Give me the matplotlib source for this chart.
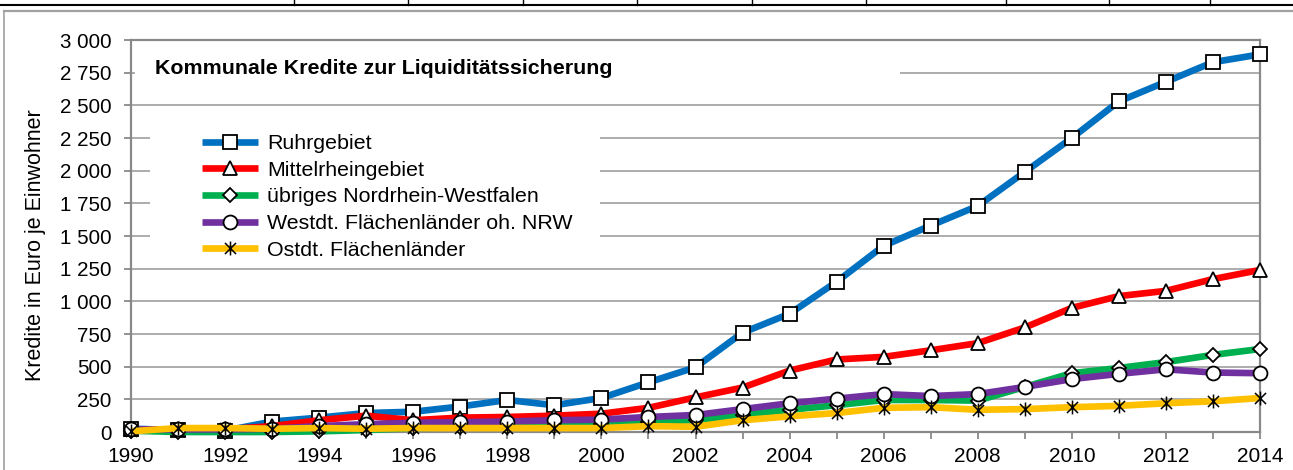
import matplotlib
matplotlib.use("Agg")
import matplotlib.pyplot as plt
from matplotlib.path import Path
from matplotlib.lines import Line2D
from matplotlib.patches import Rectangle
from matplotlib.ticker import FuncFormatter, MultipleLocator

plt.rcParams['font.family'] = ['Liberation Sans', 'DejaVu Sans']

years = list(range(1990, 2015))
ruhr = [25, 15, 10, 80, 110, 145, 155, 195, 245, 205, 260, 380, 495, 760, 905, 1150, 1425, 1580, 1730, 1990, 2250, 2530, 2680, 2830, 2890]
mittel = [20, 20, 20, 45, 90, 125, 90, 110, 115, 125, 140, 185, 265, 340, 470, 555, 575, 625, 680, 800, 950, 1040, 1080, 1170, 1240]
uebriges = [10, 0, 0, 0, 5, 15, 30, 35, 40, 45, 65, 80, 90, 130, 170, 205, 245, 245, 240, 345, 450, 490, 535, 590, 635]
westdt = [20, 20, 20, 25, 45, 60, 70, 75, 80, 90, 95, 115, 130, 175, 220, 255, 290, 275, 290, 345, 405, 445, 480, 455, 450]
ostdt = [5, 30, 30, 25, 30, 25, 30, 30, 30, 30, 30, 45, 40, 90, 120, 145, 185, 190, 170, 175, 190, 200, 220, 235, 260]

labels = ["Ruhrgebiet", "Mittelrheingebiet", "übriges Nordrhein-Westfalen",
          "Westdt. Flächenländer oh. NRW", "Ostdt. Flächenländer"]
title = "Kommunale Kredite zur Liquiditätssicherung"
ylabel = "Kredite in Euro je Einwohner"

W, H = 1293, 470
fig = plt.figure(figsize=(W / 100, H / 100), dpi=100)

def fx(px):
    return px / W

def fy(py):
    return 1 - py / H

ax = fig.add_axes([fx(131), fy(432), fx(1260) - fx(131), fy(40) - fy(432)])

star = Path([(-1, -1), (1, 1), (-1, 1), (1, -1), (0, -1.25), (0, 1.25)],
            [Path.MOVETO, Path.LINETO, Path.MOVETO, Path.LINETO, Path.MOVETO, Path.LINETO])

series = [
    (ruhr, "#0070C0", "s", 9.5),
    (mittel, "#FF0000", "^", 10),
    (uebriges, "#00B050", "D", 7),
    (westdt, "#7030A0", "o", 10),
    (ostdt, "#FFC000", star, 10),
]

handles = []
for i, (vals, col, mk, ms) in enumerate(series):
    if mk is star:
        h, = ax.plot(years, vals, color=col, lw=4.8, marker=mk, ms=ms,
                     mec="black", mew=1.1, zorder=3 + i, solid_capstyle="butt",
                     clip_on=False)
    else:
        h, = ax.plot(years, vals, color=col, lw=4.8, marker=mk, ms=ms,
                     mfc="white", mec="black", mew=1.3, zorder=3 + i,
                     solid_capstyle="butt", clip_on=False)
    handles.append(h)

ax.set_xlim(1990, 2014)
ax.set_ylim(0, 3000)
ax.yaxis.set_major_locator(MultipleLocator(250))
ax.xaxis.set_major_locator(MultipleLocator(2))
ax.xaxis.set_minor_locator(MultipleLocator(1))
ax.yaxis.set_major_formatter(FuncFormatter(lambda v, p: f"{int(v):,}".replace(",", " ")))
ax.grid(axis="y", color="#A6A6A6", lw=1.3)
ax.set_axisbelow(True)

for s in ax.spines.values():
    s.set_color("#898989")
    s.set_linewidth(1.6)

ax.tick_params(axis="y", length=5, width=1.3, color="#898989", pad=9, labelsize=14.8)
ax.tick_params(axis="x", which="both", length=5, width=1.3, color="#898989", pad=6, labelsize=15)

ax.set_ylabel(ylabel, fontsize=15.5)
ax.yaxis.set_label_coords(-(131 - 46) / (1260 - 131), (432 - 245) / 392)

# white boxes behind title and legend (hide gridlines as in the original)
ax.add_patch(Rectangle((fx(135), fy(92)), fx(900) - fx(135), fy(50) - fy(92),
                       transform=fig.transFigure, facecolor="white",
                       edgecolor="none", zorder=1))
ax.add_patch(Rectangle((fx(150), fy(264)), fx(600) - fx(150), fy(118) - fy(264),
                       transform=fig.transFigure, facecolor="white",
                       edgecolor="none", zorder=1))

fig.text(fx(155), fy(69), title, fontsize=15.4, fontweight="bold",
         ha="left", va="center")

leg = ax.legend(handles, labels, loc="upper left",
                bbox_to_anchor=(fx(202), fy(134)), bbox_transform=fig.transFigure,
                frameon=False, fontsize=15.4, handlelength=2.6, handletextpad=0.45,
                labelspacing=0.36, borderpad=0, borderaxespad=0)
leg.set_zorder(20)

# outer frame and table lines from the page
fig.add_artist(Line2D([0, 1], [fy(4.5), fy(4.5)], transform=fig.transFigure,
                      color="black", lw=1.5))
for x in [294, 408, 523, 637, 752, 866, 1006, 1109, 1210]:
    fig.add_artist(Line2D([fx(x), fx(x)], [fy(0), fy(4.5)], transform=fig.transFigure,
                          color="black", lw=1.0))
fig.add_artist(Line2D([fx(3.5), 1], [fy(11), fy(11)], transform=fig.transFigure,
                      color="#A0A0A0", lw=1.6))
fig.add_artist(Line2D([fx(3.5), fx(3.5)], [fy(11), 0], transform=fig.transFigure,
                      color="#A0A0A0", lw=1.2))

fig.savefig("out.png", dpi=100)
